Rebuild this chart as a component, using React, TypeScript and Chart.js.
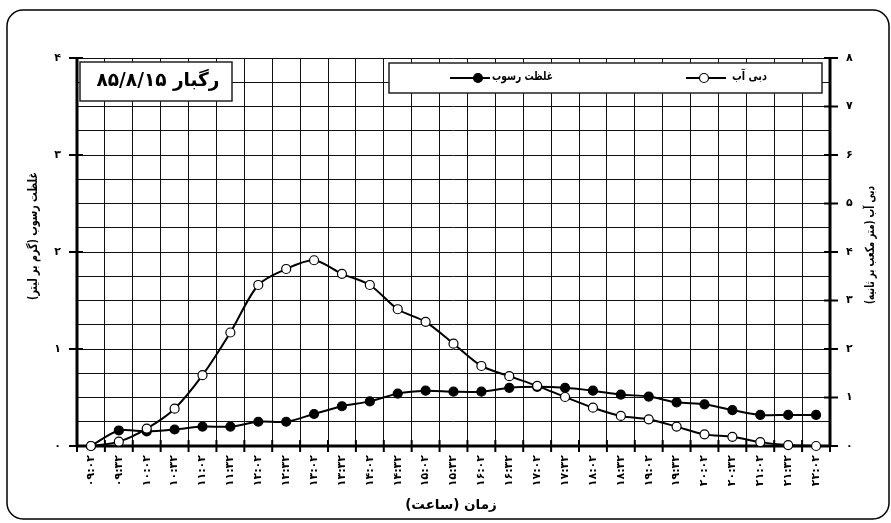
import React, { useEffect, useRef } from 'react';
import { Chart, registerables } from 'chart.js';

Chart.register(...registerables);

const timeLabels = [
  '۰۹:۰۲', '۰۹:۳۲', '۱۰:۰۲', '۱۰:۳۲', '۱۱:۰۲', '۱۱:۳۲', '۱۲:۰۲', '۱۲:۳۲', '۱۳:۰۲',
  '۱۳:۳۲', '۱۴:۰۲', '۱۴:۳۲', '۱۵:۰۲', '۱۵:۳۲', '۱۶:۰۲', '۱۶:۳۲', '۱۷:۰۲', '۱۷:۳۲',
  '۱۸:۰۲', '۱۸:۳۲', '۱۹:۰۲', '۱۹:۳۲', '۲۰:۰۲', '۲۰:۳۲', '۲۱:۰۲', '۲۱:۳۲', '۲۲:۰۲',
];

const sediment = [
  0, 0.16, 0.15, 0.17, 0.2, 0.2, 0.25, 0.25, 0.33, 0.41, 0.46, 0.54, 0.57, 0.56,
  0.56, 0.6, 0.61, 0.6, 0.57, 0.53, 0.51, 0.45, 0.43, 0.37, 0.32, 0.32, 0.32,
];

const discharge = [
  0, 0.09, 0.36, 0.77, 1.46, 2.34, 3.32, 3.65, 3.83, 3.55, 3.32, 2.82, 2.56, 2.11,
  1.65, 1.44, 1.24, 1.01, 0.79, 0.62, 0.55, 0.4, 0.24, 0.19, 0.08, 0.02, 0,
];

const leftTickLabels = ['۰', '۱', '۲', '۳', '۴'];
const rightTickLabels = ['۰', '۱', '۲', '۳', '۴', '۵', '۶', '۷', '۸'];

const chartTitle = 'رگبار ۸۵/۸/۱۵';
const sedimentLabel = 'غلظت رسوب';
const dischargeLabel = 'دبی آب';
const leftAxisTitle = 'غلظت رسوب (گرم بر لیتر)';
const rightAxisTitle = 'دبی آب (متر مکعب بر ثانیه)';
const xAxisTitle = 'زمان (ساعت)';

const FONT = '"DejaVu Sans", "Noto Sans", sans-serif';

function roundRect(ctx: CanvasRenderingContext2D, x: number, y: number, w: number, h: number, r: number) {
  ctx.beginPath();
  ctx.moveTo(x + r, y);
  ctx.lineTo(x + w - r, y);
  ctx.arcTo(x + w, y, x + w, y + r, r);
  ctx.lineTo(x + w, y + h - r);
  ctx.arcTo(x + w, y + h, x + w - r, y + h, r);
  ctx.lineTo(x + r, y + h);
  ctx.arcTo(x, y + h, x, y + h - r, r);
  ctx.lineTo(x, y + r);
  ctx.arcTo(x, y, x + r, y, r);
  ctx.closePath();
}

// draw bold text at (x, y) after rotation, squeezed horizontally to span about `target` px
function drawFitted(
  ctx: CanvasRenderingContext2D,
  text: string,
  x: number,
  y: number,
  size: number,
  target: number,
  align: CanvasTextAlign,
  rotation = 0,
) {
  ctx.save();
  ctx.font = `bold ${size}px ${FONT}`;
  ctx.textAlign = align;
  ctx.textBaseline = 'middle';
  (ctx as any).direction = 'rtl';
  const w = ctx.measureText(text).width || 1;
  const sx = Math.min(1, target / w);
  ctx.translate(x, y);
  if (rotation) ctx.rotate(rotation);
  ctx.scale(sx, 1);
  ctx.fillText(text, 0, 0);
  ctx.restore();
}

const decorPlugin = {
  id: 'decor',
  beforeDraw(chart: any) {
    const ctx: CanvasRenderingContext2D = chart.ctx;
    ctx.save();
    ctx.fillStyle = '#fff';
    ctx.fillRect(0, 0, chart.width, chart.height);
    roundRect(ctx, 7, 10, 882, 509, 16);
    ctx.lineWidth = 1.5;
    ctx.strokeStyle = '#000';
    ctx.stroke();
    ctx.restore();
  },
  beforeDatasetsDraw(chart: any) {
    const ctx: CanvasRenderingContext2D = chart.ctx;
    const { left, right, top, bottom } = chart.chartArea;
    const yL = chart.scales.y;
    const yR = chart.scales.y1;
    ctx.save();
    ctx.strokeStyle = '#000';
    ctx.lineWidth = 3;
    ctx.beginPath();
    ctx.moveTo(left, top - 1);
    ctx.lineTo(left, bottom);
    ctx.moveTo(right, top - 1);
    ctx.lineTo(right, bottom);
    ctx.moveTo(left - 1, bottom);
    ctx.lineTo(right + 1, bottom);
    ctx.stroke();
    ctx.lineWidth = 2;
    ctx.beginPath();
    const n = timeLabels.length;
    for (let i = 0; i <= n; i++) {
      const x = left + (i * (right - left)) / n;
      ctx.moveTo(x, bottom - 6);
      ctx.lineTo(x, bottom + 6);
    }
    for (let v = 0; v < leftTickLabels.length; v++) {
      const y = yL.getPixelForValue(v);
      ctx.moveTo(left - 8, y);
      ctx.lineTo(left + 6, y);
    }
    for (let v = 0; v < rightTickLabels.length; v++) {
      const y = yR.getPixelForValue(v);
      ctx.moveTo(right - 6, y);
      ctx.lineTo(right + 8, y);
    }
    ctx.stroke();
    ctx.restore();
  },
  afterDraw(chart: any) {
    const ctx: CanvasRenderingContext2D = chart.ctx;
    ctx.save();

    // title box
    ctx.fillStyle = '#fff';
    ctx.fillRect(80, 62, 152, 39);
    ctx.lineWidth = 1.5;
    ctx.strokeStyle = '#222';
    ctx.strokeRect(80, 62, 152, 39);
    ctx.fillStyle = '#000';
    drawFitted(ctx, chartTitle, 158, 81, 19, 123, 'center');

    // legend box
    ctx.fillStyle = '#fff';
    ctx.fillRect(389, 63, 433, 30);
    ctx.strokeStyle = '#222';
    ctx.strokeRect(389, 63, 433, 30);
    ctx.fillStyle = '#000';
    drawFitted(ctx, dischargeLabel, 767, 77, 12, 35, 'right');
    drawFitted(ctx, sedimentLabel, 553, 77, 12, 61, 'right');
    ctx.lineWidth = 2;
    ctx.strokeStyle = '#000';
    ctx.beginPath();
    ctx.moveTo(686, 78);
    ctx.lineTo(726, 78);
    ctx.moveTo(450, 78);
    ctx.lineTo(490, 78);
    ctx.stroke();
    ctx.lineWidth = 1.2;
    ctx.beginPath();
    ctx.arc(704, 78, 4.5, 0, Math.PI * 2);
    ctx.fillStyle = '#fff';
    ctx.fill();
    ctx.stroke();
    ctx.beginPath();
    ctx.arc(478, 78, 4.5, 0, Math.PI * 2);
    ctx.fillStyle = '#000';
    ctx.fill();
    ctx.stroke();

    // axis titles
    ctx.fillStyle = '#000';
    drawFitted(ctx, leftAxisTitle, 34, 236, 12.5, 128, 'center', -Math.PI / 2);
    drawFitted(ctx, rightAxisTitle, 871, 245, 12.5, 118, 'center', -Math.PI / 2);
    drawFitted(ctx, xAxisTitle, 451, 505, 13.5, 92, 'center');
    ctx.restore();
  },
};

export default function App() {
  const canvasRef = useRef<HTMLCanvasElement | null>(null);

  useEffect(() => {
    const canvas = canvasRef.current;
    if (!canvas) return;
    const tickFont = { family: FONT, size: 11, weight: 'bold' as const };
    const chart = new Chart(canvas, {
      type: 'line',
      data: {
        labels: timeLabels,
        datasets: [
          {
            label: dischargeLabel,
            data: discharge,
            yAxisID: 'y1',
            order: 0,
            borderColor: '#000',
            borderWidth: 2,
            pointRadius: 4.5,
            pointBackgroundColor: '#fff',
            pointBorderColor: '#000',
            pointBorderWidth: 1.2,
            tension: 0.3,
            clip: false as any,
          },
          {
            label: sedimentLabel,
            data: sediment,
            yAxisID: 'y',
            order: 1,
            borderColor: '#000',
            borderWidth: 2,
            pointRadius: 4.5,
            pointBackgroundColor: '#000',
            pointBorderColor: '#000',
            pointBorderWidth: 1.2,
            tension: 0.3,
            clip: false as any,
          },
        ],
      },
      options: {
        animation: false,
        responsive: false,
        maintainAspectRatio: false,
        layout: { padding: { top: 58, left: 0, right: 0, bottom: 0 } },
        plugins: {
          legend: { display: false },
          tooltip: { enabled: false },
          title: { display: false },
        },
        scales: {
          x: {
            type: 'category',
            offset: true,
            afterFit: (s: any) => {
              s.height = 77;
            },
            grid: { offset: true, color: '#111', lineWidth: 1, drawTicks: false },
            border: { display: false },
            ticks: {
              autoSkip: false,
              maxRotation: 90,
              minRotation: 90,
              padding: 9,
              color: '#000',
              font: tickFont,
            },
          },
          y: {
            type: 'linear',
            position: 'left',
            min: 0,
            max: 4,
            afterFit: (s: any) => {
              s.width = 77;
            },
            grid: { color: '#111', lineWidth: 1, drawTicks: false },
            border: { display: false },
            ticks: {
              stepSize: 0.25,
              autoSkip: false,
              padding: 16,
              color: '#000',
              font: tickFont,
              callback: (v: any) => {
                const n = Number(v);
                return Math.abs(n - Math.round(n)) < 1e-6 ? leftTickLabels[Math.round(n)] : '';
              },
            },
          },
          y1: {
            type: 'linear',
            position: 'right',
            min: 0,
            max: 8,
            afterFit: (s: any) => {
              s.width = 61;
            },
            grid: { display: false, drawTicks: false },
            border: { display: false },
            ticks: {
              stepSize: 1,
              autoSkip: false,
              padding: 16,
              color: '#000',
              font: tickFont,
              callback: (v: any) => rightTickLabels[Math.round(Number(v))],
            },
          },
        },
      },
      plugins: [decorPlugin],
    });
    return () => chart.destroy();
  }, []);

  return (
    <div style={{ position: 'fixed', left: 0, top: 0, width: 891, height: 523, background: '#fff' }}>
      <canvas ref={canvasRef} width={891} height={523} style={{ display: 'block', width: 891, height: 523 }} />
    </div>
  );
}
